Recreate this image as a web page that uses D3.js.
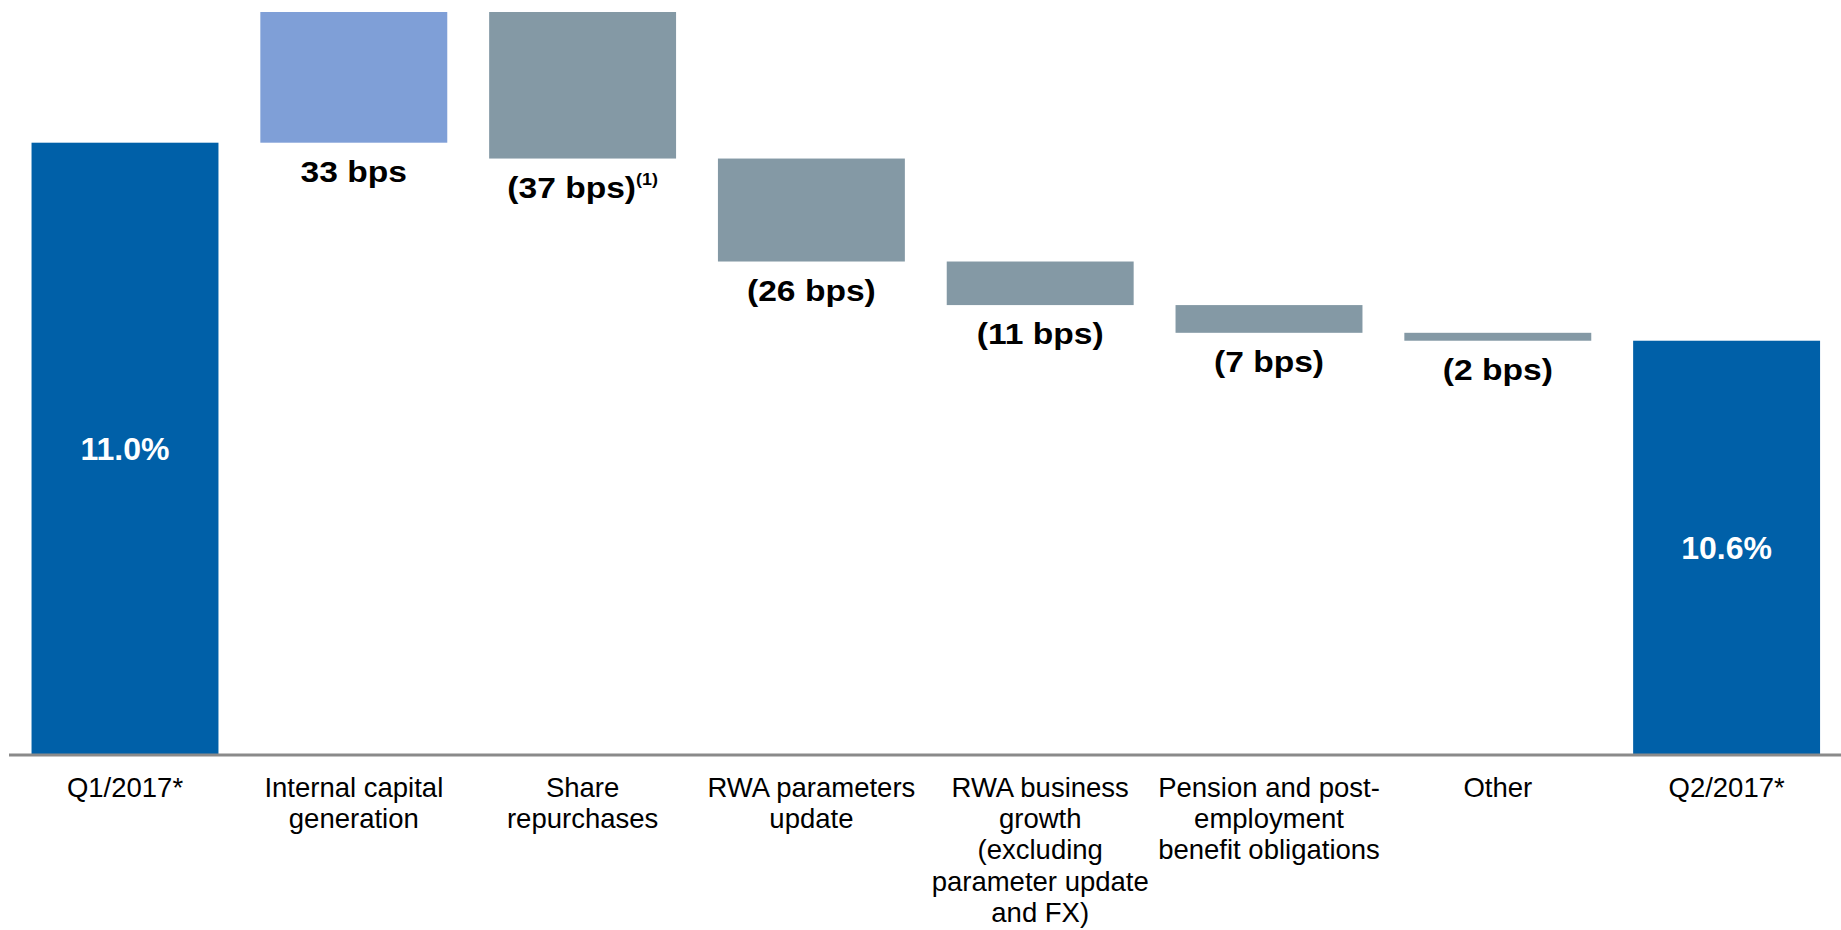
<!DOCTYPE html>
<html>
<head>
<meta charset="utf-8">
<script src="https://cdn.jsdelivr.net/npm/d3@7"></script>
<style>
  html, body { margin: 0; padding: 0; background: #ffffff; }
  svg { display: block; }
  text { font-family: "Liberation Sans", Arial, Helvetica, sans-serif; }
</style>
</head>
<body>
<div id="chart"></div>
<script>
// ---- Data ----
const categories = ["Q1/2017*", "Internal capital generation", "Share repurchases",
  "RWA parameters update", "RWA business growth (excluding parameter update and FX)",
  "Pension and post-employment benefit obligations", "Other", "Q2/2017*"];
const categoryLines = [
  ["Q1/2017*"],
  ["Internal capital", "generation"],
  ["Share", "repurchases"],
  ["RWA parameters", "update"],
  ["RWA business", "growth", "(excluding", "parameter update", "and FX)"],
  ["Pension and post-", "employment", "benefit obligations"],
  ["Other"],
  ["Q2/2017*"]
];
const startPct = 11.0;               // CET1 ratio Q1/2017 (%)
const startLabel = "11.0%";
const endLabel = "10.6%";
const deltasBps = [33, -37, -26, -11, -7, -2];
const deltaLabels = ["33 bps", "(37 bps)", "(26 bps)", "(11 bps)", "(7 bps)", "(2 bps)"];
const deltaNotes = ["", "(1)", "", "", "", ""];

// ---- Build waterfall ----
const W = 1841, H = 930;
const startBps = startPct * 100;
const bars = [];
bars.push({cat: categories[0], y0: null, y1: startBps, type: "total", label: startLabel});
let cum = startBps;
deltasBps.forEach((d, i) => {
  const prev = cum; cum += d;
  bars.push({cat: categories[i + 1], y0: prev, y1: cum, type: d >= 0 ? "up" : "down",
             label: deltaLabels[i], note: deltaNotes[i]});
});
bars.push({cat: categories[7], y0: null, y1: cum, type: "total", label: endLabel});

const colors = {total: "#0060A8", up: "#7F9FD7", down: "#8499A5"};

const x = d3.scaleBand().domain(categories).range([10.6, 1841])
  .paddingInner(0.183).paddingOuter(0.0915);
const baseY = 755;
const y = d3.scaleLinear().domain([945.4, 1100]).range([baseY, 142.7]);

const svg = d3.select("#chart").append("svg").attr("width", W).attr("height", H);

// bars
svg.append("g").selectAll("rect").data(bars).join("rect")
  .attr("x", d => x(d.cat))
  .attr("width", x.bandwidth())
  .attr("y", d => d.type === "total" ? y(d.y1) : y(Math.max(d.y0, d.y1)))
  .attr("height", d => d.type === "total" ? baseY - y(d.y1) : Math.abs(y(d.y0) - y(d.y1)))
  .attr("fill", d => colors[d.type]);

// axis
const axis = svg.append("g").attr("transform", `translate(0,${baseY})`)
  .call(d3.axisBottom(x).tickSize(0).tickSizeOuter(0).tickFormat(""));
axis.select(".domain").attr("stroke", "#8a8a8a").attr("stroke-width", 3)
  .attr("d", `M9,0H${W}`);
axis.selectAll(".tick").each(function(d, i) {
  const t = d3.select(this).append("text")
    .attr("fill", "#000").attr("text-anchor", "middle")
    .style("font-size", "27.5px");
  categoryLines[i].forEach((line, j) => {
    t.append("tspan").attr("x", 0).attr("y", 41.5 + j * 31.4).text(line);
  });
});

// total labels
svg.append("g").selectAll("text").data(bars.filter(d => d.type === "total")).join("text")
  .attr("x", d => x(d.cat) + x.bandwidth() / 2)
  .attr("y", d => (y(d.y1) + baseY) / 2)
  .attr("text-anchor", "middle").attr("dominant-baseline", "central")
  .attr("fill", "#fff").style("font-size", "32px").style("font-weight", "bold")
  .text(d => d.label);

// delta labels
const dl = svg.append("g").selectAll("g").data(bars.filter(d => d.type !== "total")).join("g")
  .attr("transform", d => `translate(${x(d.cat) + x.bandwidth() / 2},${y(Math.min(d.y0, d.y1)) + 39}) scale(1.12,1)`);
const dt = dl.append("text").attr("text-anchor", "middle").attr("fill", "#000")
  .style("font-size", "30px").style("font-weight", "bold");
dt.append("tspan").text(d => d.label);
dt.filter(d => d.note).append("tspan").attr("dy", -13).style("font-size", "16px").text(d => d.note);
</script>
</body>
</html>
